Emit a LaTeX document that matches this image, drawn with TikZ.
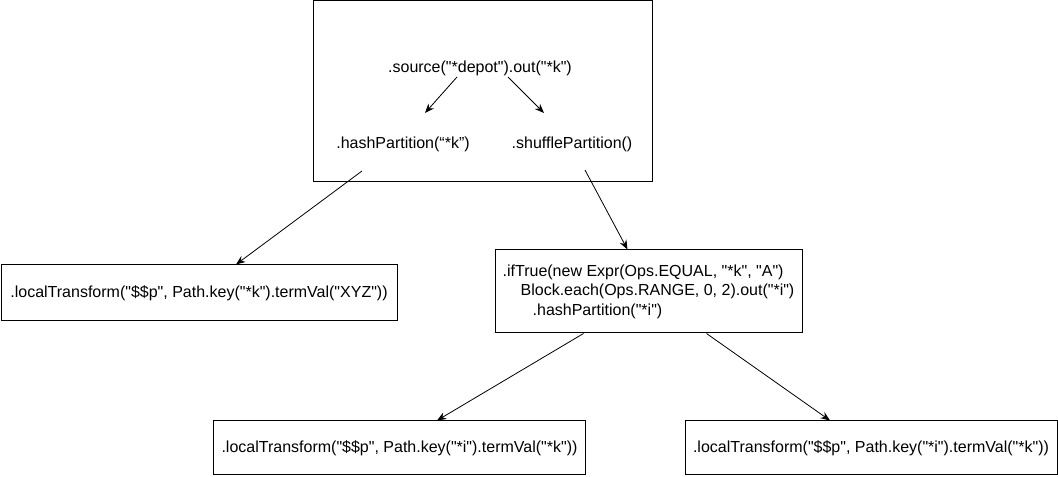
\documentclass[tikz,border=0pt]{standalone}
\usepackage{fontspec}
\setmainfont{Liberation Sans}[Ligatures=TeXOff]
\usepackage{tikz}
\usetikzlibrary{arrows.meta,positioning}

\begin{document}
\begin{tikzpicture}[x=0.75pt, y=-0.75pt,
	font=\fontsize{12}{14.6}\selectfont,
	box/.style={draw, line width=0.75pt, inner sep=0pt},
	txt/.style={inner sep=0pt},
	arr/.style={-{Stealth[length=7pt,width=5.5pt]}, line width=0.6pt}]
			\useasboundingbox (0,0) rectangle (1058,477);
			% top container
			\node[box, minimum width=254.25pt, minimum height=135.75pt] (grp) at (482.5,91.5) {};
			\node[txt] (src) at (480,68) {.source("*depot").out("*k")};
			\node[txt] (hash) at (403,144) {.hashPartition(“*k”)};
			\node[txt] (shuf) at (572,144) {.shufflePartition()};
			\draw[arr] ([shift={(-23,9)}]src.center) -- ([shift={(22,-31)}]hash.center);
			\draw[arr] ([shift={(28,9)}]src.center) -- ([shift={(-28,-31)}]shuf.center);
			% boxes
			\node[box, minimum width=297pt, minimum height=42pt] (lt) at (199,293) {.localTransform("\$\$p", Path.key("*k").termVal("XYZ"))};
			\node[box, minimum width=230.25pt, minimum height=62.25pt, align=left] (cond) at (648.5,291.5) {.ifTrue(new Expr(Ops.EQUAL, "*k", "A")\\\hspace*{13.5pt}Block.each(Ops.RANGE, 0, 2).out("*i")\\\hspace*{22.5pt}.hashPartition("*i")};
			\node[box, minimum width=279pt, minimum height=40.5pt] (ltl) at (399.5,448) {.localTransform("\$\$p", Path.key("*i").termVal("*k"))};
			\node[box, minimum width=279pt, minimum height=40.5pt] (ltr) at (871,448) {.localTransform("\$\$p", Path.key("*i").termVal("*k"))};
			% connectors
			\draw[arr] ([shift={(-41,27)}]hash.center) -- ([xshift=37*0.75pt]lt.north);
			\draw[arr] ([shift={(13,26)}]shuf.center) -- ([xshift=-21*0.75pt]cond.north);
			\draw[arr] ([xshift=-65*0.75pt]cond.south) -- ([xshift=37.5*0.75pt]ltl.north);
			\draw[arr] ([xshift=58*0.75pt]cond.south) -- ([xshift=-41*0.75pt]ltr.north);
		\end{tikzpicture}
\end{document}
